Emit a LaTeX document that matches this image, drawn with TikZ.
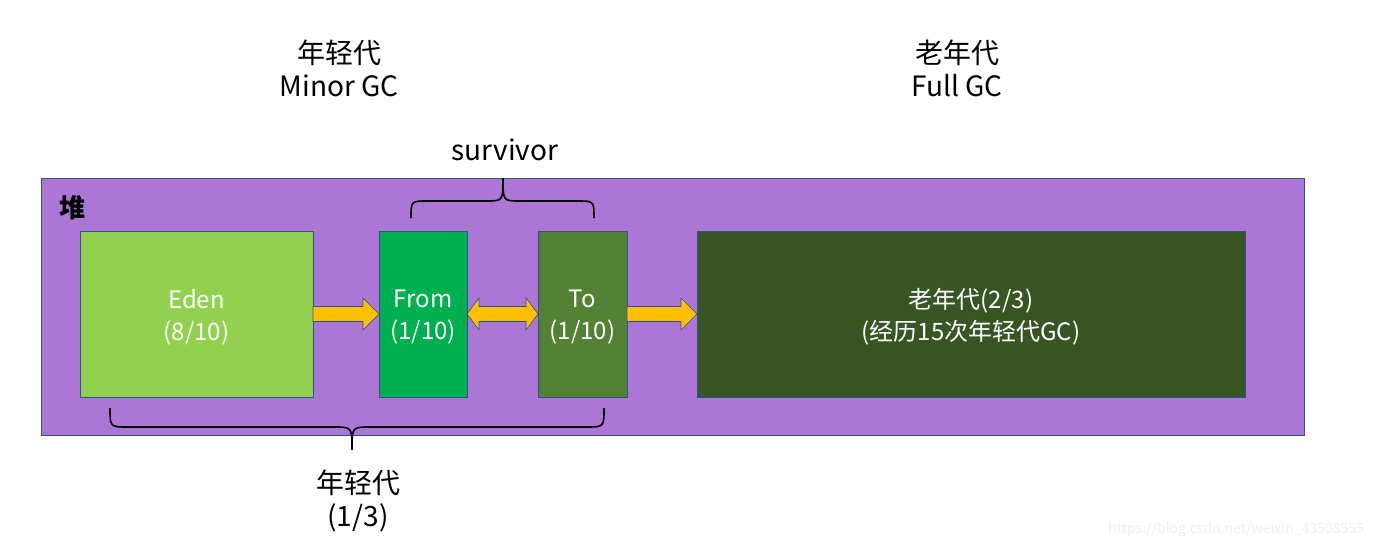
\documentclass[tikz,border=0pt]{standalone}
\usepackage{fontspec}
\setmainfont{Noto Sans CJK SC}
\usetikzlibrary{calc}
\definecolor{heapc}{HTML}{AB76D6}
\definecolor{edgec}{HTML}{2F528F}
\definecolor{edenc}{HTML}{92D050}
\definecolor{fromc}{HTML}{00B050}
\definecolor{toc}{HTML}{548235}
\definecolor{oldc}{HTML}{375623}
\definecolor{arrc}{HTML}{FFC000}
\tikzset{
  region/.style={draw=edgec, line width=0.8pt, inner sep=0pt, outer sep=0pt},
  boxtext/.style={text=white, font=\fontsize{24}{32}\selectfont, align=center, inner sep=0pt, yshift=-3pt},
  title/.style={font=\fontsize{28}{33}\selectfont, align=center, inner sep=0pt},
  bracec/.style={line width=1.6pt, black},
  blk/.style={fill=arrc, draw=edgec, line width=0.6pt, line join=miter},
}
\newcommand{\myarrow}[2]{%
  \draw[blk] ($(#1.east)+(0,-7.5)$) -- ($(#2.west)+(-16,-7.5)$) -- ($(#2.west)+(-16,-16)$) -- (#2.west)
    -- ($(#2.west)+(-16,16)$) -- ($(#2.west)+(-16,7.5)$) -- ($(#1.east)+(0,7.5)$) -- cycle;}
\begin{document}
\begin{tikzpicture}[x=1pt,y=-1pt]
\useasboundingbox (0,0) rectangle (1373,549);
% heap
\node[draw=edgec, fill=heapc, line width=0.8pt, minimum width=1263pt, minimum height=257pt, anchor=north west, inner sep=0pt] (heap) at (41,178) {};
\node[font=\fontsize{26}{26}\selectfont\bfseries, anchor=center, inner sep=0pt] (dui) at (72,208) {堆};
% regions
\node[region, fill=edenc, minimum width=233pt, minimum height=166pt] (eden) at (196.5,314) {};
\node[boxtext] (edent) at (eden.center) {Eden\\(8/10)};
\node[region, fill=fromc, minimum width=88pt, minimum height=166pt] (from) at (423,314) {};
\node[boxtext] (fromt) at (from.center) {From\\(1/10)};
\node[region, fill=toc, minimum width=89pt, minimum height=166pt] (to) at (582.5,314) {};
\node[boxtext] (tot) at (to.center) {To\\(1/10)};
\node[region, fill=oldc, minimum width=548pt, minimum height=166pt] (old) at (971,314) {};
\node[boxtext] (oldt) at (old.center) {老年代(2/3)\\(经历15次年轻代GC)};
% arrows
\myarrow{eden}{from}
\myarrow{to}{old}
\draw[blk] ($(from.east)+(0,0)$) -- ($(from.east)+(12,-16)$) -- ($(from.east)+(12,-7.5)$)
  -- ($(to.west)+(-12,-7.5)$) -- ($(to.west)+(-12,-16)$) -- (to.west)
  -- ($(to.west)+(-12,16)$) -- ($(to.west)+(-12,7.5)$) -- ($(from.east)+(12,7.5)$)
  -- ($(from.east)+(12,16)$) -- cycle;
% titles
\node[title] (yt) at (339,68) {年轻代\\Minor GC};
\node[title] (ot) at (957,68) {老年代\\Full GC};
\node[title] (surv) at (505,150) {survivor};
\node[title] (ybot) at (358,501) {年轻代\\(1/3)};
% braces
\coordinate (tb) at (503,178);
\draw[bracec] (411,218) .. controls (411,201) .. (428,201) -- (486,201)
  .. controls (503,201) .. (tb) .. controls (503,201) .. (520,201) -- (577,201)
  .. controls (594,201) .. (594,218);
\coordinate (bb) at (352,450);
\draw[bracec] (110,408) .. controls (110,427) .. (128,427) -- (334,427)
  .. controls (352,427) .. (bb) .. controls (352,427) .. (370,427) -- (586,427)
  .. controls (604,427) .. (604,408);
% watermark
\node[font=\fontsize{14}{14}\selectfont, text=black!6, anchor=east, inner sep=0pt] (wm) at (1364,530) {https://blog.csdn.net/weixin\_43508555};
\end{tikzpicture}
\end{document}
